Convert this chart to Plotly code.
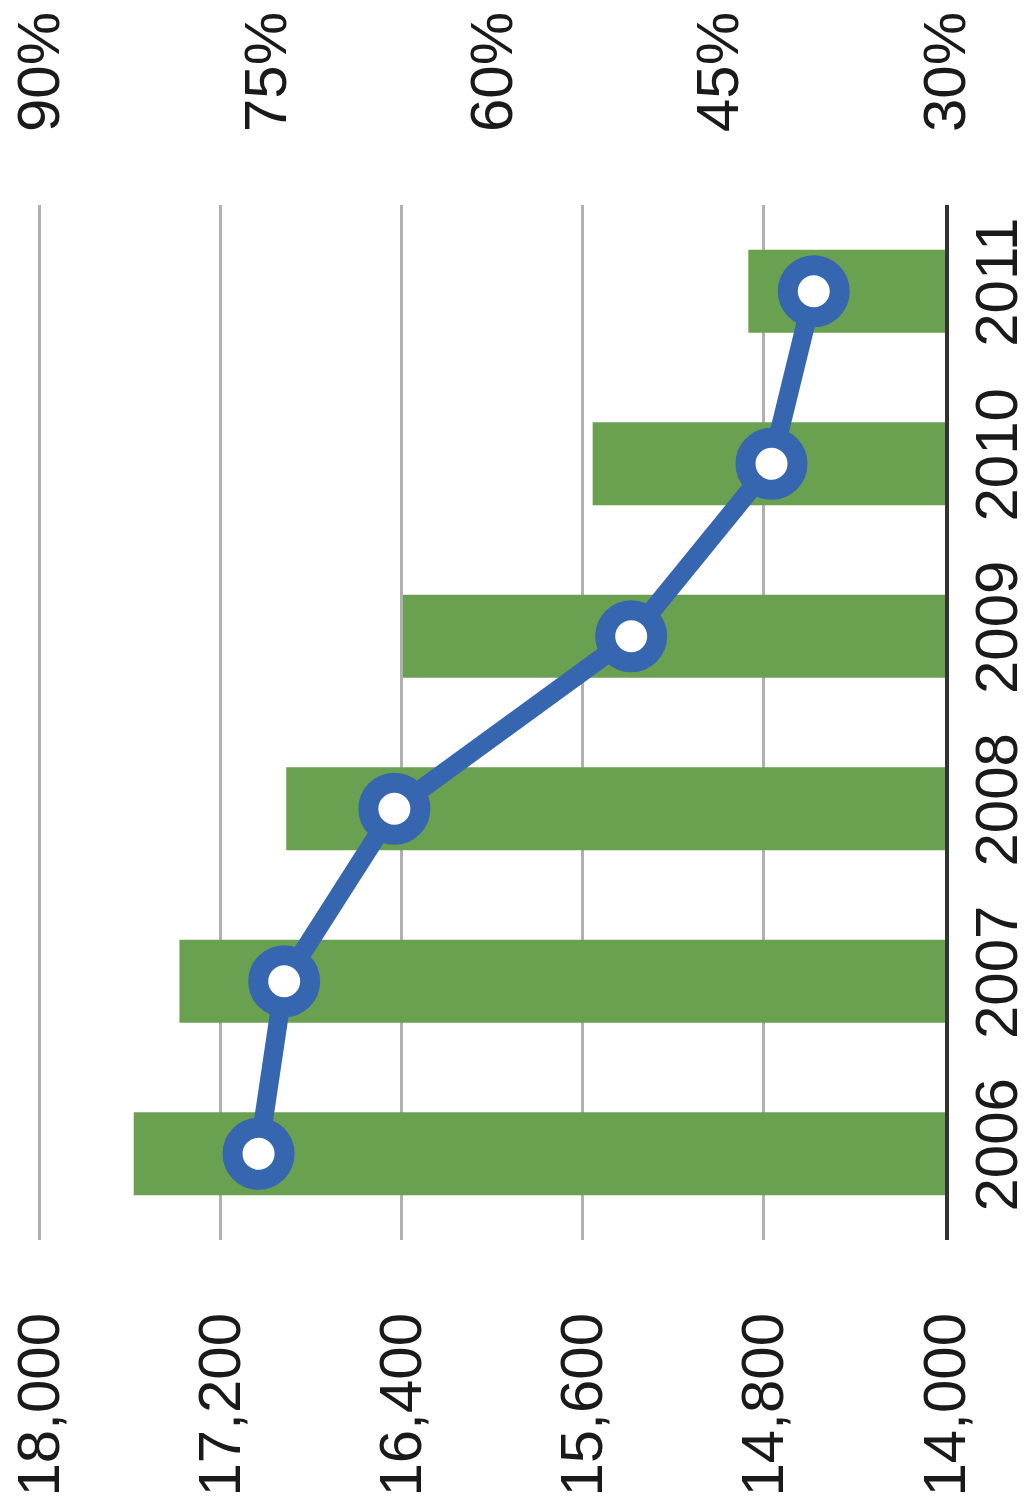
import plotly.graph_objects as go

years = ["2006", "2007", "2008", "2009", "2010", "2011"]
bar_values = [17585, 17383, 16911, 16395, 15557, 14869]
pct_values = [75.5, 73.8, 66.5, 50.8, 41.5, 38.7]
left_ticks = [14000, 14800, 15600, 16400, 17200, 18000]
left_tick_text = ["14,000", "14,800", "15,600", "16,400", "17,200", "18,000"]
right_ticks = [30, 45, 60, 75, 90]
right_tick_text = ["30%", "45%", "60%", "75%", "90%"]

font = dict(family="Liberation Sans, Arial, sans-serif", size=60, color="#1a1a1a")

fig = go.Figure()
fig.add_trace(go.Bar(
    y=years, x=bar_values, orientation="h",
    marker=dict(color="#69A151", line=dict(width=0)),
    xaxis="x", yaxis="y", showlegend=False,
))
fig.add_trace(go.Scatter(
    y=years, x=pct_values, mode="lines+markers",
    line=dict(color="#3766B0", width=19),
    marker=dict(size=52, color="white", line=dict(color="#3766B0", width=20)),
    xaxis="x2", yaxis="y", showlegend=False, cliponaxis=False,
))

fig.update_layout(
    width=1025, height=1504,
    margin=dict(l=30, r=88, t=197, b=272, autoexpand=False),
    paper_bgcolor="white", plot_bgcolor="white",
    font=font,
    bargap=0.52,
    xaxis=dict(
        range=[18008, 14000], tickvals=left_ticks, ticktext=left_tick_text,
        tickangle=-90, side="bottom", showgrid=True, gridcolor="#B0B0B0", gridwidth=3,
        zeroline=False, showline=False, ticks="", ticklabelstandoff=60, tickfont=font,
        automargin=False, ticklabeloverflow="allow",
    ),
    xaxis2=dict(
        range=[90.12, 30], tickvals=right_ticks, ticktext=right_tick_text,
        tickangle=-90, side="top", overlaying="x", showgrid=False,
        zeroline=False, showline=False, ticks="", ticklabelstandoff=72, tickfont=font,
        automargin=False, ticklabeloverflow="allow",
    ),
    yaxis=dict(
        type="category", range=[-0.5, 5.5], side="right", tickangle=-90,
        showgrid=False, zeroline=False, showline=True, linecolor="#333333", linewidth=4,
        ticks="", ticklabelstandoff=-4, tickfont=font, automargin=False,
        ticklabeloverflow="allow",
    ),
)

fig.write_html("out.html")
